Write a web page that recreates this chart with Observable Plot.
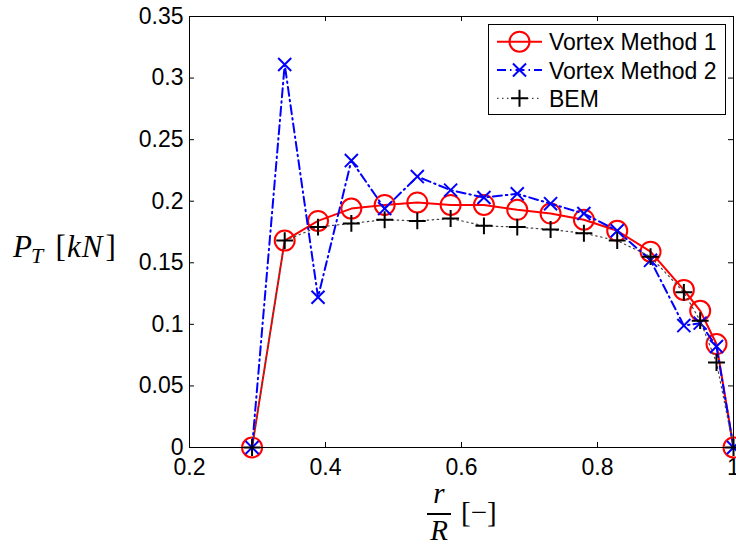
<!DOCTYPE html>
<html>
<head>
<meta charset="utf-8">
<script src="https://cdn.jsdelivr.net/npm/d3@7"></script>
<script src="https://cdn.jsdelivr.net/npm/@observablehq/plot@0.6"></script>
<style>
  html, body { margin: 0; padding: 0; background: white; }
  #chart { width: 736px; height: 544px; }
</style>
</head>
<body>
<div id="chart"></div>
<script>
// r/R positions of the blade sections
const rR = [0.292, 0.340, 0.389, 0.438, 0.487, 0.535, 0.584, 0.633, 0.682, 0.731, 0.780, 0.829, 0.878, 0.927, 0.951, 0.975, 1.0];
// Tangential load P_T [kN]
const vortex1 = [0, 0.168, 0.184, 0.194, 0.197, 0.199, 0.197, 0.197, 0.193, 0.190, 0.185, 0.176, 0.159, 0.128, 0.111, 0.084, 0];
const vortex2 = [0, 0.311, 0.122, 0.233, 0.194, 0.220, 0.209, 0.203, 0.206, 0.198, 0.190, 0.176, 0.152, 0.099, 0.101, 0.082, 0];
const bem     = [0, 0.168, 0.179, 0.182, 0.185, 0.184, 0.186, 0.180, 0.179, 0.177, 0.174, 0.168, 0.155, 0.126, 0.103, 0.069, 0];
const seriesNames = ["Vortex Method 1", "Vortex Method 2", "BEM"];
const xTicks = [0.2, 0.4, 0.6, 0.8, 1];
const yTicks = [0, 0.05, 0.1, 0.15, 0.2, 0.25, 0.3, 0.35];

const W = 736, H = 544;
const mL = 189, mR = 3, mT = 16, mB = 97;
const fw = W - mL - mR, fh = H - mT - mB;
const tickLen = 5;

const d1 = rR.map((x, i) => ({x, y: vortex1[i]}));
const d2 = rR.map((x, i) => ({x, y: vortex2[i]}));
const d3b = rR.map((x, i) => ({x, y: bem[i]}));

const sansFont = "'Liberation Sans', Arial, Helvetica, sans-serif";
const serifFont = "'Liberation Serif', 'Times New Roman', serif";

const plot = Plot.plot({
  width: W, height: H,
  marginLeft: mL, marginRight: mR, marginTop: mT, marginBottom: mB,
  style: {background: "white", fontFamily: sansFont, color: "black"},
  x: {domain: [0.2, 1]},
  y: {domain: [0, 0.35]},
  marks: [
    // inward ticks on all four sides
    Plot.tickX(xTicks, {x: d => d, insetTop: fh - tickLen, stroke: "black", strokeWidth: 1}),
    Plot.tickX(xTicks, {x: d => d, insetBottom: fh - tickLen, stroke: "black", strokeWidth: 1}),
    Plot.tickY(yTicks, {y: d => d, insetRight: fw - tickLen, stroke: "black", strokeWidth: 1}),
    Plot.tickY(yTicks, {y: d => d, insetLeft: fw - tickLen, stroke: "black", strokeWidth: 1}),
    Plot.axisX({ticks: xTicks, tickSize: 0, tickPadding: 11, tickFormat: d => String(d), fontSize: 23, label: null}),
    Plot.axisY({ticks: yTicks, tickSize: 0, tickPadding: 6, tickFormat: d => String(d), fontSize: 23, label: null}),
    // Vortex Method 1
    Plot.line(d1, {x: "x", y: "y", stroke: "#ff0000", strokeWidth: 2}),
    Plot.dot(d1, {x: "x", y: "y", r: 10, symbol: "circle", fill: "none", stroke: "#ff0000", strokeWidth: 2}),
    // Vortex Method 2
    Plot.line(d2, {x: "x", y: "y", stroke: "#0000ff", strokeWidth: 2, strokeDasharray: "9,4,1.5,4"}),
    Plot.dot(d2, {x: "x", y: "y", r: 6, symbol: "times", stroke: "#0000ff", strokeWidth: 2}),
    // BEM
    Plot.line(d3b, {x: "x", y: "y", stroke: "#444444", strokeWidth: 1.2, strokeDasharray: "1.5,3.5"}),
    Plot.dot(d3b, {x: "x", y: "y", r: 5.5, symbol: "plus", stroke: "black", strokeWidth: 2}),
    Plot.frame({stroke: "black", strokeWidth: 1})
  ]
});

document.getElementById("chart").appendChild(plot);

const svg = d3.select(plot);

// Y axis label: P_T [kN]
const yl = svg.append("text")
  .attr("x", 13).attr("y", 257).attr("text-anchor", "start")
  .attr("font-family", serifFont).attr("font-size", 31).attr("fill", "black");
yl.append("tspan").attr("font-style", "italic").text("P");
yl.append("tspan").attr("font-style", "italic").attr("font-size", 22).attr("dy", 6).attr("dx", -1).text("T");
yl.append("tspan").attr("dy", -6).attr("dx", 0).text("\u2009\u2009[");
yl.append("tspan").attr("font-style", "italic").attr("dx", 1).text("k");
yl.append("tspan").attr("font-style", "italic").attr("dx", 1).text("N");
yl.append("tspan").attr("dx", 3).text("]");

// X axis label: r/R [−]
const cx = 439;
svg.append("text").attr("x", cx).attr("y", 503).attr("text-anchor", "middle")
  .attr("font-family", serifFont).attr("font-size", 29).attr("font-style", "italic").text("r");
svg.append("line").attr("x1", 427).attr("x2", 451).attr("y1", 514).attr("y2", 514)
  .attr("stroke", "black").attr("stroke-width", 2);
svg.append("text").attr("x", cx).attr("y", 540).attr("text-anchor", "middle")
  .attr("font-family", serifFont).attr("font-size", 29).attr("font-style", "italic").text("R");
svg.append("text").attr("x", 461).attr("y", 522).attr("text-anchor", "start")
  .attr("font-family", serifFont).attr("font-size", 29).text("[\u2212]");

// Legend
const lg = svg.append("g");
lg.append("rect").attr("x", 488.5).attr("y", 24.5).attr("width", 237).attr("height", 90)
  .attr("fill", "white").attr("stroke", "black").attr("stroke-width", 1);
const rows = [
  {y: 41.7, stroke: "#ff0000", width: 2, dash: null, sym: d3.symbolCircle, r: 10, fill: "none"},
  {y: 70, stroke: "#0000ff", width: 2, dash: "9,4,1.5,4", sym: d3.symbolTimes, r: 6, fill: "none"},
  {y: 98.3, stroke: "#444444", width: 1.2, dash: "1.5,3.5", sym: d3.symbolPlus, r: 5.5, fill: "none", mstroke: "black"}
];
rows.forEach((row, i) => {
  lg.append("line").attr("x1", 497).attr("x2", 542).attr("y1", row.y).attr("y2", row.y)
    .attr("stroke", row.stroke).attr("stroke-width", row.width)
    .attr("stroke-dasharray", row.dash);
  lg.append("path")
    .attr("d", d3.symbol().type(row.sym).size(Math.PI * row.r * row.r)())
    .attr("transform", `translate(519.5,${row.y})`)
    .attr("fill", row.fill).attr("stroke", row.mstroke || row.stroke).attr("stroke-width", 2);
  lg.append("text").attr("x", 549).attr("y", row.y + 8.5).attr("text-anchor", "start")
    .attr("font-family", sansFont).attr("font-size", 23).attr("fill", "black")
    .text(seriesNames[i]);
});
</script>
</body>
</html>
